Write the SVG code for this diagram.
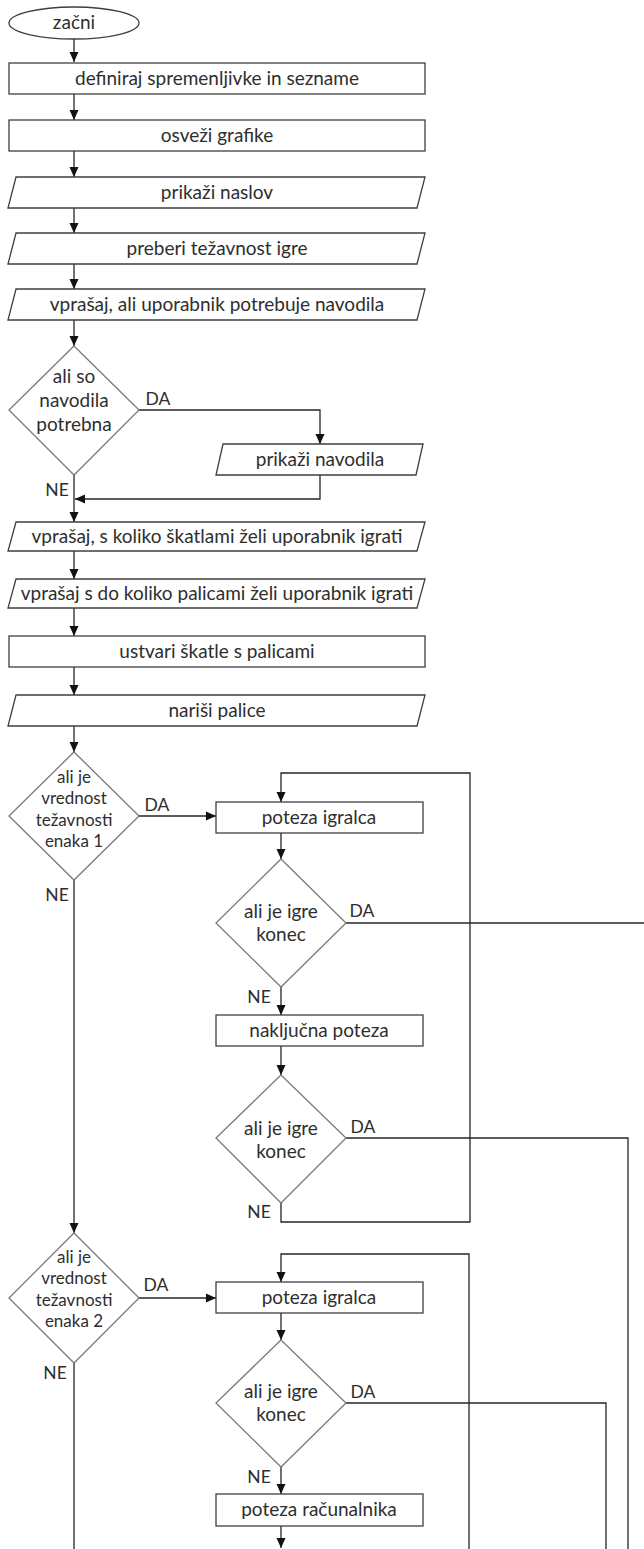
<svg xmlns="http://www.w3.org/2000/svg" width="644" height="1549" viewBox="0 0 644 1549">
<defs>
<style>
.box{fill:#fff;stroke:#3f3f3f;stroke-width:1.3}
.dia{fill:#fff;stroke:#7a7a7a;stroke-width:1.3}
.t{font-family:Lato,"Liberation Sans",sans-serif;font-size:19px;fill:#2e2e2e;text-anchor:middle}
.ts{font-family:Lato,"Liberation Sans",sans-serif;font-size:17px;fill:#2e2e2e;text-anchor:middle}
.lb{font-family:Lato,"Liberation Sans",sans-serif;font-size:17.5px;fill:#2e2e2e;text-anchor:middle}
.c{fill:none;stroke:#262626;stroke-width:1.3}
</style>
<marker id="a" viewBox="0 0 10 10" refX="10" refY="5" markerWidth="10" markerHeight="10" markerUnits="userSpaceOnUse" orient="auto">
<path d="M0,0.5 L10,5 L0,9.5 Z" fill="#111"/>
</marker>
</defs>
<rect width="644" height="1549" fill="#fff"/>

<g id="connectors">
<path class="c" d="M74,39 V62" marker-end="url(#a)"/>
<path class="c" d="M74,94 V120" marker-end="url(#a)"/>
<path class="c" d="M74,151 V177" marker-end="url(#a)"/>
<path class="c" d="M74,208 V233" marker-end="url(#a)"/>
<path class="c" d="M74,264 V289" marker-end="url(#a)"/>
<path class="c" d="M74,320 V346" marker-end="url(#a)"/>
<path class="c" d="M139,410 H320 V444" marker-end="url(#a)"/>
<path class="c" d="M320,475 V499 H75" marker-end="url(#a)"/>
<path class="c" d="M74,475 V522" marker-end="url(#a)"/>
<path class="c" d="M74,551 V579" marker-end="url(#a)"/>
<path class="c" d="M74,608 V636" marker-end="url(#a)"/>
<path class="c" d="M74,667 V695" marker-end="url(#a)"/>
<path class="c" d="M74,726 V752" marker-end="url(#a)"/>
<path class="c" d="M139,816 H216" marker-end="url(#a)"/>
<path class="c" d="M74,880 V1233" marker-end="url(#a)"/>
<path class="c" d="M281,833 V859" marker-end="url(#a)"/>
<path class="c" d="M346,923 H644"/>
<path class="c" d="M281,987 V1015" marker-end="url(#a)"/>
<path class="c" d="M281,1046 V1075" marker-end="url(#a)"/>
<path class="c" d="M346,1138 H628 V1549"/>
<path class="c" d="M281,1203 V1222 H470 V773 H281 V802" marker-end="url(#a)"/>
<path class="c" d="M139,1298 H216" marker-end="url(#a)"/>
<path class="c" d="M74,1363 V1549"/>
<path class="c" d="M469,1549 V1254 H281 V1282" marker-end="url(#a)"/>
<path class="c" d="M281,1313 V1340" marker-end="url(#a)"/>
<path class="c" d="M346,1403 H606 V1549"/>
<path class="c" d="M281,1467 V1494" marker-end="url(#a)"/>
<path class="c" d="M281,1526 V1548" marker-end="url(#a)"/>
<text class="lb" x="158" y="405">DA</text>
<text class="lb" x="57" y="496">NE</text>
<text class="lb" x="157" y="811">DA</text>
<text class="lb" x="57" y="901">NE</text>
<text class="lb" x="362" y="917">DA</text>
<text class="lb" x="259" y="1003">NE</text>
<text class="lb" x="363" y="1133">DA</text>
<text class="lb" x="259" y="1218">NE</text>
<text class="lb" x="156" y="1291">DA</text>
<text class="lb" x="55" y="1379">NE</text>
<text class="lb" x="363" y="1398">DA</text>
<text class="lb" x="259" y="1483">NE</text>
</g>

<g id="start">
<ellipse class="box" cx="74" cy="23" rx="65" ry="16"/>
<text class="t" x="74" y="29">začni</text>
</g>
<g id="define">
<rect class="box" x="9" y="63" width="416" height="31"/>
<text class="t" x="217" y="85">definiraj spremenljivke in sezname</text>
</g>
<g id="refresh">
<rect class="box" x="9" y="120" width="416" height="31"/>
<text class="t" x="217" y="142">osveži grafike</text>
</g>
<g id="title">
<polygon class="box" points="16,177 425,177 417,208 8,208"/>
<text class="t" x="217" y="199">prikaži naslov</text>
</g>
<g id="difficulty">
<polygon class="box" points="16,233 425,233 417,264 8,264"/>
<text class="t" x="217" y="255">preberi težavnost igre</text>
</g>
<g id="askhelp">
<polygon class="box" points="16,289 425,289 417,320 8,320"/>
<text class="t" x="217" y="311">vprašaj, ali uporabnik potrebuje navodila</text>
</g>
<g id="needhelp">
<polygon class="dia" points="74,346 139,410 74,475 9,410"/>
<text class="t" x="74" y="383">ali so</text>
<text class="t" x="74" y="407">navodila</text>
<text class="t" x="74" y="431">potrebna</text>
</g>
<g id="showhelp">
<polygon class="box" points="223,444 423,444 416,475 216,475"/>
<text class="t" x="320" y="466">prikaži navodila</text>
</g>
<g id="askboxes">
<polygon class="box" points="16,522 425,522 417,551 8,551"/>
<text class="t" x="217" y="543">vprašaj, s koliko škatlami želi uporabnik igrati</text>
</g>
<g id="asksticks">
<polygon class="box" points="16,579 425,579 417,608 8,608"/>
<text class="t" x="217" y="600">vprašaj s do koliko palicami želi uporabnik igrati</text>
</g>
<g id="create">
<rect class="box" x="9" y="636" width="416" height="31"/>
<text class="t" x="217" y="658">ustvari škatle s palicami</text>
</g>
<g id="draw">
<polygon class="box" points="16,695 425,695 417,726 8,726"/>
<text class="t" x="217" y="717">nariši palice</text>
</g>
<g id="diff1">
<polygon class="dia" points="74,752 139,816 74,880 9,816"/>
<text class="ts" x="74" y="783">ali je</text>
<text class="ts" x="74" y="804">vrednost</text>
<text class="ts" x="74" y="826">težavnosti</text>
<text class="ts" x="74" y="847">enaka 1</text>
</g>
<g id="player1">
<rect class="box" x="216" y="802" width="207" height="31"/>
<text class="t" x="319" y="824">poteza igralca</text>
</g>
<g id="end1">
<polygon class="dia" points="281,859 346,923 281,987 216,923"/>
<text class="t" x="281" y="918">ali je igre</text>
<text class="t" x="281" y="941">konec</text>
</g>
<g id="random">
<rect class="box" x="216" y="1015" width="207" height="31"/>
<text class="t" x="319" y="1037">naključna poteza</text>
</g>
<g id="end2">
<polygon class="dia" points="281,1075 346,1138 281,1203 216,1138"/>
<text class="t" x="281" y="1135">ali je igre</text>
<text class="t" x="281" y="1158">konec</text>
</g>
<g id="diff2">
<polygon class="dia" points="74,1233 139,1298 74,1363 9,1298"/>
<text class="ts" x="74" y="1263">ali je</text>
<text class="ts" x="74" y="1284">vrednost</text>
<text class="ts" x="74" y="1306">težavnosti</text>
<text class="ts" x="74" y="1327">enaka 2</text>
</g>
<g id="player2">
<rect class="box" x="216" y="1282" width="207" height="31"/>
<text class="t" x="319" y="1304">poteza igralca</text>
</g>
<g id="end3">
<polygon class="dia" points="281,1340 346,1403 281,1467 216,1403"/>
<text class="t" x="281" y="1398">ali je igre</text>
<text class="t" x="281" y="1421">konec</text>
</g>
<g id="computer">
<rect class="box" x="216" y="1494" width="207" height="32"/>
<text class="t" x="319" y="1516">poteza računalnika</text>
</g>
</svg>
